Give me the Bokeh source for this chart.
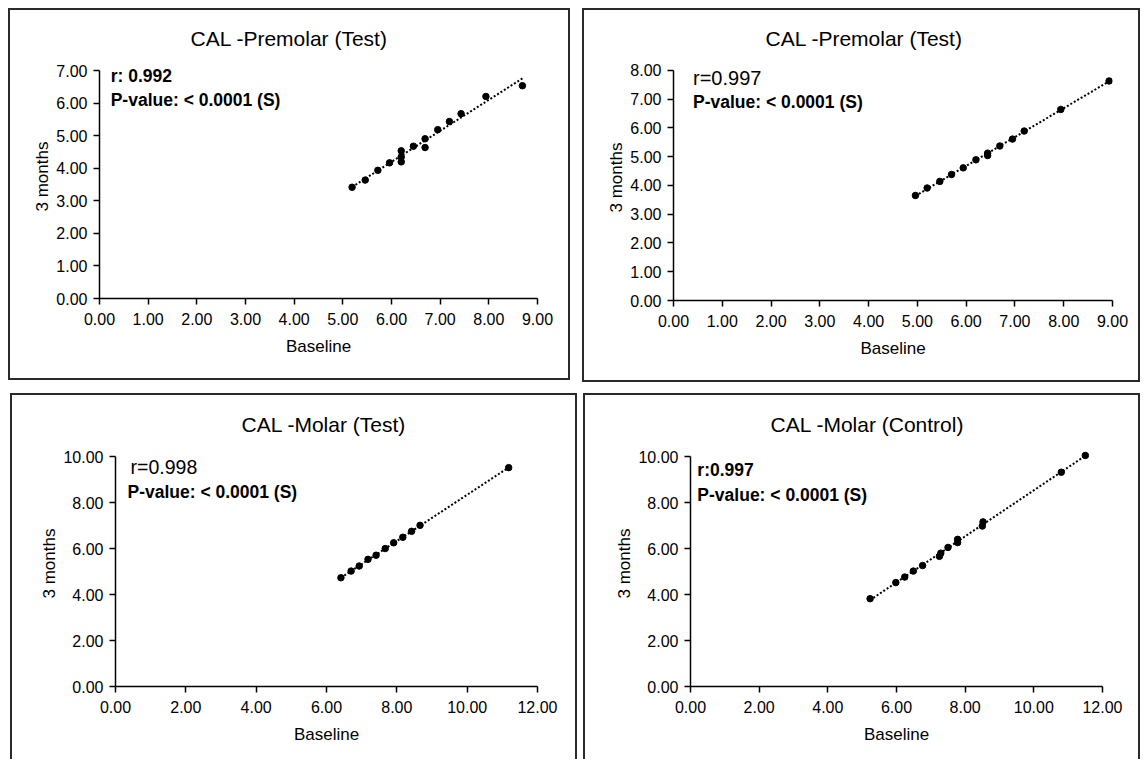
import numpy as np
from bokeh.plotting import figure
from bokeh.layouts import column, row
from bokeh.models import Range1d, FixedTicker, PrintfTickFormatter, Label
from bokeh.embed import file_html
from bokeh.resources import INLINE

# ---- data ----
pm_test1_base = [5.19, 5.46, 5.72, 5.96, 6.20, 6.20, 6.20, 6.45, 6.69, 6.69, 6.95, 7.19, 7.43, 7.94, 8.69]
pm_test1_3m   = [3.42, 3.64, 3.94, 4.17, 4.54, 4.35, 4.20, 4.68, 4.91, 4.64, 5.19, 5.44, 5.68, 6.21, 6.54]

pm_test2_base = [4.96, 5.20, 5.46, 5.70, 5.94, 6.20, 6.44, 6.44, 6.69, 6.95, 7.19, 7.94, 8.93]
pm_test2_3m   = [3.65, 3.91, 4.14, 4.38, 4.61, 4.89, 5.04, 5.12, 5.37, 5.61, 5.89, 6.64, 7.63]

mol_test_base = [6.41, 6.70, 6.93, 7.18, 7.41, 7.67, 7.91, 8.17, 8.42, 8.66, 11.18]
mol_test_3m   = [4.73, 5.02, 5.24, 5.53, 5.71, 6.00, 6.25, 6.49, 6.75, 7.01, 9.52]

mol_ctrl_base = [5.23, 5.98, 6.24, 6.49, 6.76, 7.25, 7.29, 7.50, 7.78, 7.78, 8.50, 8.52, 10.80, 11.50]
mol_ctrl_3m   = [3.82, 4.52, 4.76, 5.02, 5.26, 5.66, 5.80, 6.05, 6.26, 6.40, 6.98, 7.16, 9.32, 10.05]

titles = ["CAL -Premolar (Test)", "CAL -Premolar (Test)", "CAL -Molar (Test)", "CAL -Molar (Control)"]
r_texts = ["r: 0.992", "r=0.997", "r=0.998", "r:0.997"]
p_text = "P-value: < 0.0001 (S)"
x_ticks_a = [0, 1, 2, 3, 4, 5, 6, 7, 8, 9]
y_ticks_a = [0, 1, 2, 3, 4, 5, 6, 7]
y_ticks_b = [0, 1, 2, 3, 4, 5, 6, 7, 8]
x_ticks_c = [0, 2, 4, 6, 8, 10, 12]
y_ticks_c = [0, 2, 4, 6, 8, 10]

FONT = "Liberation Sans"
INK = "#000000"


def panel(xs, ys, title, xmax, ymax, ytop, xticks, yticks, w, h, mb, border, margin, toff):
    p = figure(width=w, height=h, output_backend="svg", toolbar_location=None,
               x_range=Range1d(0, xmax), y_range=Range1d(0, ytop),
               min_border_left=mb[0], min_border_right=mb[1], min_border_top=mb[2], min_border_bottom=mb[3],
               title=title)
    p.margin = margin
    p.styles = border
    p.outline_line_color = None
    p.grid.visible = False
    p.background_fill_color = "white"
    p.border_fill_color = "white"
    p.title.align = "left"
    p.title.offset = toff
    p.title.text_font = FONT
    p.title.text_font_size = "21px"
    p.title.text_font_style = "normal"
    p.title.text_color = INK
    for ax, ticks in ((p.xaxis[0], xticks), (p.yaxis[0], yticks)):
        ax.ticker = FixedTicker(ticks=ticks)
        ax.formatter = PrintfTickFormatter(format="%.2f")
        ax.major_tick_in = 0
        ax.major_tick_out = 6
        ax.minor_tick_line_color = None
        ax.axis_line_width = 1.5
        ax.major_tick_line_width = 1.5
        ax.axis_line_color = INK
        ax.major_tick_line_color = INK
        ax.major_label_text_font = FONT
        ax.major_label_text_font_size = "16px"
        ax.major_label_text_color = INK
        ax.axis_label_text_font = FONT
        ax.axis_label_text_font_size = "17px"
        ax.axis_label_text_font_style = "normal"
        ax.axis_label_text_color = INK
    p.yaxis[0].bounds = (0, ymax)
    p.xaxis[0].axis_label = "Baseline"
    p.yaxis[0].axis_label = "3 months"
    p.xaxis[0].major_label_standoff = 8
    p.yaxis[0].major_label_standoff = 6
    p.xaxis[0].axis_label_standoff = 9
    p.yaxis[0].axis_label_standoff = 1

    xa = np.array(xs)
    ya = np.array(ys)
    m, c = np.polyfit(xa, ya, 1)
    lx = np.array([xa.min(), xa.max()])
    p.line(lx, m * lx + c, line_color=INK, line_width=2, line_dash="2 2")
    p.scatter(xs, ys, size=6.5, color=INK)
    return p


b_full = {"border": "2px solid #2a2a2a"}
b_open = {"border": "2px solid #2a2a2a", "border-bottom": "none"}

p1 = panel(pm_test1_base, pm_test1_3m, titles[0], 9, 7, 7.5, x_ticks_a, y_ticks_a,
           562, 372, (89, 35, 44, 83), b_full, (8, 0, 0, 8), 91)
p2 = panel(pm_test2_base, pm_test2_3m, titles[1], 9, 8, 8.55, x_ticks_a, y_ticks_b,
           558, 374, (89, 30, 44, 84), b_full, (8, 0, 0, 12), 92)
p3 = panel(mol_test_base, mol_test_3m, titles[2], 12, 10, 10.7, x_ticks_c, y_ticks_c,
           567, 366, (103, 42, 44, 75), b_open, (11, 0, 0, 10), 126)
p4 = panel(mol_ctrl_base, mol_ctrl_3m, titles[3], 12, 10, 10.7, x_ticks_c, y_ticks_c,
           557, 366, (105, 40, 45, 75), b_open, (11, 0, 0, 6), 80)

# r / P-value annotations (data coordinates)
ann = [
    (p1, 0.23, 0.23, 6.85, 6.10, r_texts[0], True, "17.5px"),
    (p2, 0.40, 0.40, 7.75, 6.90, r_texts[1], False, "20px"),
    (p3, 0.43, 0.34, 9.55, 8.45, r_texts[2], False, "19.5px"),
    (p4, 0.20, 0.20, 9.40, 8.35, r_texts[3], True, "17.5px"),
]
for p, xr, xp, yr, yp, rt, rb, rs in ann:
    p.add_layout(Label(x=xr, y=yr, text=rt, text_font=FONT, text_font_size=rs,
                       text_font_style="bold" if rb else "normal", text_baseline="middle",
                       text_color=INK))
    p.add_layout(Label(x=xp, y=yp, text=p_text, text_font=FONT, text_font_size="17.5px",
                       text_font_style="bold", text_baseline="middle", text_color=INK))

layout = column(row(p1, p2), row(p3, p4))
open("out.html", "w").write(file_html(layout, INLINE))
